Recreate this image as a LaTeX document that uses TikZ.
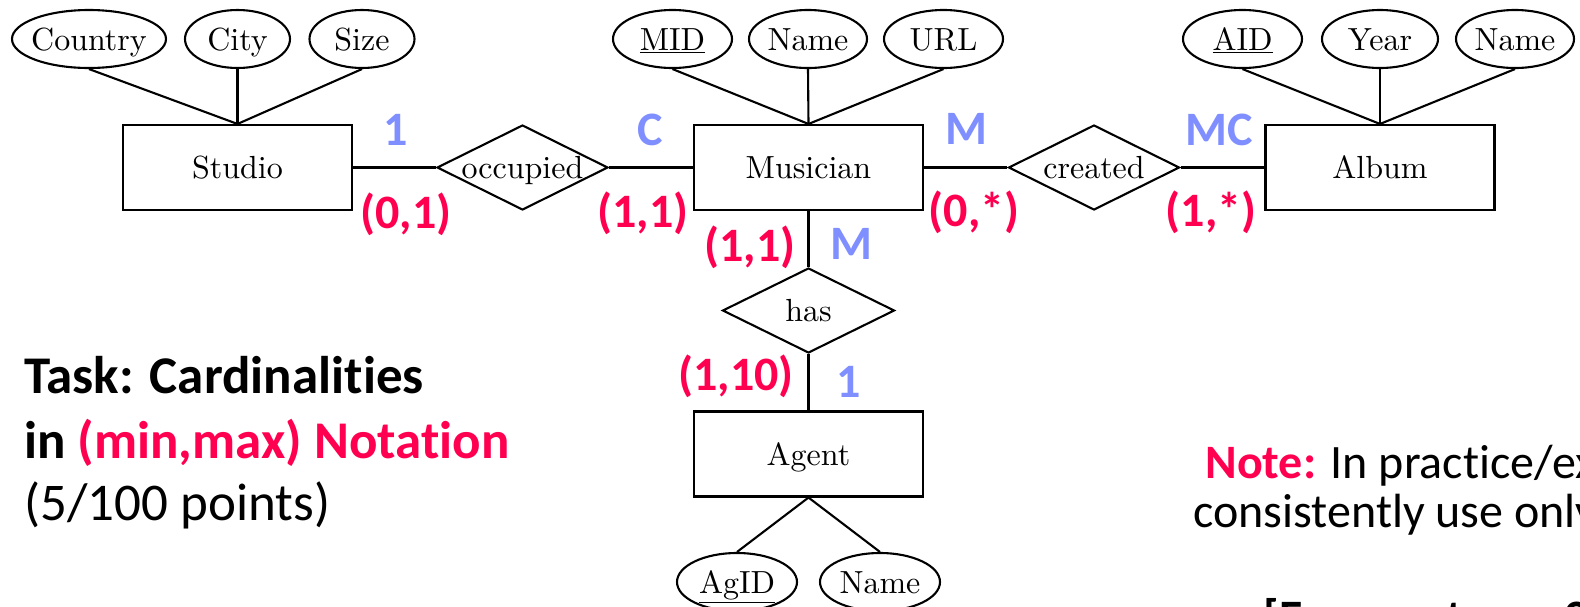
\documentclass[tikz,border=0pt]{standalone}
\usepackage{fontspec}
\newfontfamily\lmten{lmroman10-regular.otf}
\newfontfamily\calfont{Carlito}[Ligatures=NoCommon]
\usetikzlibrary{shapes.geometric}
\definecolor{cred}{HTML}{FF0050}
\definecolor{cblue}{HTML}{7F8FFF}
\newcommand{\zb}[1]{\makebox[0pt]{#1}}
\tikzset{
  erbase/.style={draw, line width=1.05pt, inner sep=0pt, text height=11pt, text depth=0pt,
    font=\lmten\fontsize{16}{19}\selectfont},
  ent/.style={erbase, rectangle, minimum width=114.5pt, minimum height=42.5pt},
  attr/.style={erbase, ellipse, minimum height=29pt},
  rel/.style={erbase, diamond, minimum width=85.5pt, minimum height=42.5pt},
  conn/.style={line width=1.05pt},
  lab/.style={inner sep=0pt, font=\calfont\bfseries\fontsize{24}{28}\selectfont},
  redlab/.style={lab, text=cred},
  bluelab/.style={lab, text=cblue},
  task/.style={inner sep=0pt, anchor=base west, font=\calfont\fontsize{26.5}{32}\selectfont},
  note/.style={inner sep=0pt, anchor=base west, font=\calfont\fontsize{24}{24.5}\selectfont}
}
\begin{document}
\begin{tikzpicture}[x=0.5pt,y=-0.5pt]
\useasboundingbox (0,0) rectangle (1580,606);
\clip (0,0) rectangle (1580,606);
% entities
\node[ent] (studio) at (237.5,167.5) {\zb{Studio}};
\node[ent] (mus) at (808.5,167.5) {\zb{Musician}};
\node[ent] (album) at (1380,167.5) {\zb{Album}};
\node[ent] (agent) at (808.5,454) {\zb{Agent}};
% relationships
\node[rel] (occ) at (522.5,167.5) {\zb{occupied}};
\node[rel] (cre) at (1094,167.5) {\zb{created}};
\node[rel, minimum width=86pt] (has) at (808.5,310.5) {\zb{has}};
% attributes
\node[attr, minimum width=77pt] (country) at (89,39) {\zb{Country}};
\node[attr, minimum width=52.5pt] (city) at (237.5,39) {\zb{City}};
\node[attr, minimum width=52.5pt] (size) at (362,39) {\zb{Size}};
\node[attr, minimum width=59.5pt] (mid) at (672.5,39) {\zb{\underline{MID}}};
\node[attr, minimum width=59pt] (mname) at (808,39) {\zb{Name}};
\node[attr, minimum width=59.5pt] (url) at (943.5,39) {\zb{URL}};
\node[attr, minimum width=59.5pt] (aid) at (1242.5,39) {\zb{\underline{AID}}};
\node[attr, minimum width=58pt] (year) at (1380,39) {\zb{Year}};
\node[attr, minimum width=59pt] (aname) at (1515,39) {\zb{Name}};
\node[attr, minimum width=60pt] (agid) at (737,582) {\zb{\underline{AgID}}};
\node[attr, minimum width=60pt] (gname) at (880,582) {\zb{Name}};
% connectors
\draw[conn] (studio) -- (occ);
\draw[conn] (occ) -- (mus);
\draw[conn] (mus) -- (cre);
\draw[conn] (cre) -- (album);
\draw[conn] (mus) -- (has);
\draw[conn] (has) -- (agent);
\foreach \a in {country,city,size} \draw[conn] (\a.south) -- (studio.north);
\foreach \a in {mid,mname,url} \draw[conn] (\a.south) -- (mus.north);
\foreach \a in {aid,year,aname} \draw[conn] (\a.south) -- (album.north);
\foreach \a in {agid,gname} \draw[conn] (\a.north) -- (agent.south);
% cardinality labels
\node[bluelab] (l1) at (396,130) {1};
\node[redlab] (r1) at (406,214) {(0,1)};
\node[bluelab] (l2) at (650,130) {C};
\node[redlab] (r2) at (643,213) {(1,1)};
\node[bluelab] (l3) at (966,129) {M};
\node[redlab] (r3) at (974,212) {(0,*)};
\node[bluelab] (l4) at (1219,130) {MC};
\node[redlab] (r4) at (1211,212) {(1,*)};
\node[redlab] (r5) at (750,247) {(1,1)};
\node[bluelab] (l5) at (851,244) {M};
\node[redlab] (r6) at (736,376) {(1,10)};
\node[bluelab] (l6) at (849,382) {1};
% task text
\node[task] (t1) at (24,393) {\bfseries Task: Cardinalities};
\node[task] (t2) at (24,458) {\bfseries in \textcolor{cred}{(min,max) Notation}};
\node[task] (t3) at (24,520) {(5/100 points)};
% note
\node[note] (n1) at (1205,478) {\textcolor{cred}{\bfseries Note:} In practice/exams, please};
\node[note] (n2) at (1193,527) {consistently use only one notation};
\node[note] (n3) at (1263,633) {\bfseries [Exam autumn 2021]};
\end{tikzpicture}
\end{document}
